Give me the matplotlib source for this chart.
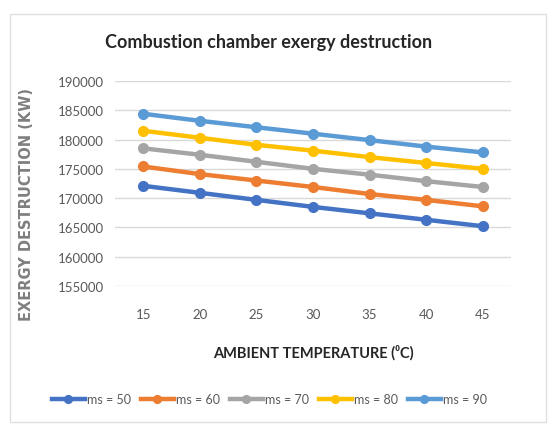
import matplotlib.pyplot as plt
from matplotlib.patches import Rectangle

plt.rcParams['font.family'] = ['Lato', 'DejaVu Sans']

# ambient temperature categories
temps = ["15", "20", "25", "30", "35", "40", "45"]

# exergy destruction (kW) for each steam mass flow
ms50 = [172100, 170900, 169700, 168500, 167400, 166300, 165200]
ms60 = [175400, 174100, 173000, 171900, 170700, 169700, 168600]
ms70 = [178500, 177400, 176200, 175000, 174000, 172900, 171900]
ms80 = [181500, 180300, 179100, 178100, 177000, 176000, 175000]
ms90 = [184400, 183200, 182100, 181000, 179900, 178800, 177800]

series = [ms50, ms60, ms70, ms80, ms90]
labels = ["ms = 50", "ms = 60", "ms = 70", "ms = 80", "ms = 90"]
colors = ["#4472C4", "#ED7D31", "#A5A5A5", "#FFC000", "#5B9BD5"]

fig = plt.figure(figsize=(5.5, 4.27), dpi=100)
ax = fig.add_axes([0.209, 0.328, 0.72, 0.48])

x = range(len(temps))
for vals, lab, col in zip(series, labels, colors):
    ax.plot(x, vals, color=col, lw=3.2, marker='o', ms=7, label=lab)

ax.set_xlim(-0.5, len(temps) - 0.5)
ax.set_ylim(155000, 190000)
ax.set_yticks(range(155000, 190001, 5000))
ax.set_xticks(list(x))
ax.set_xticklabels(temps)
ax.grid(axis='y', color='#D9D9D9', lw=1)
ax.set_axisbelow(True)
for s in ax.spines.values():
    s.set_visible(False)
ax.tick_params(axis='y', length=0, labelsize=9.5, colors='#595959', pad=8)
ax.tick_params(axis='x', length=0, labelsize=9.5, colors='#595959', pad=16)

fig.text(0.489, 0.9, "Combustion chamber exergy destruction", fontsize=13,
         fontweight='bold', color='#262626', ha='center', va='center')
ax.set_xlabel("AMBIENT TEMPERATURE (\u2070C)", fontsize=10.5, fontweight='bold',
              color='#262626', labelpad=17)
ax.set_ylabel("EXERGY DESTRUCTION (KW)", fontsize=10.5, fontweight='bold',
              color='#7F7F7F', family=['DejaVu Sans'])
ax.yaxis.set_label_coords(-0.205, 0.4)

leg = fig.legend(loc='center', bbox_to_anchor=(0.49, 0.063), ncol=5,
                 frameon=False, fontsize=9, handlelength=2.6,
                 handletextpad=0.2, columnspacing=0.8, markerscale=0.8)
for t in leg.get_texts():
    t.set_color('#595959')

fig.patches.append(Rectangle((0.018, 0.01), 0.975, 0.955, transform=fig.transFigure,
                             fill=False, ec='#E0E0E0', lw=1))

fig.savefig("out.png", dpi=100)
